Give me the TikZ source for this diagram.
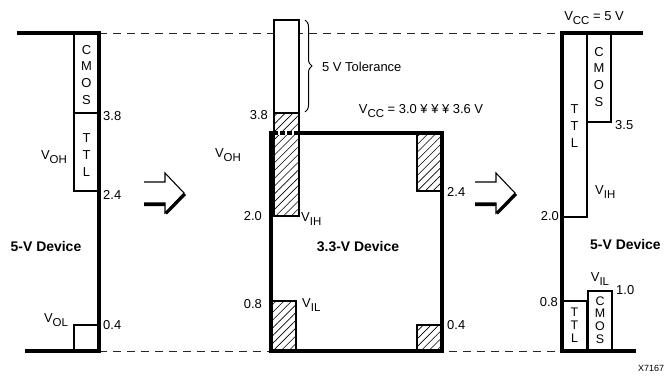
\documentclass[tikz,border=0pt]{standalone}
\usepackage{fontspec}
\setmainfont{Liberation Sans}
\usetikzlibrary{patterns.meta, decorations.pathreplacing, positioning}

\newcommand{\Vsub}[1]{V\raisebox{-0.55ex}{\fontsize{11.5}{11.5}\selectfont #1}}

\tikzset{
  device/.style={line width=4bp, line join=miter},
  lvlbox/.style={draw, line width=1.2bp, fill=white},
  hatchbox/.style={draw, line width=1.2bp, pattern={Lines[angle=45, distance=5.5bp, line width=0.6bp]}},
  guide/.style={line width=1bp, black!85, dash pattern=on 8bp off 6bp},
  lvl/.style={font=\fontsize{13}{14}\selectfont, inner sep=0pt},
  devname/.style={font=\fontsize{14}{16}\selectfont\bfseries, inner sep=0pt},
  letters/.style={align=center, font=\fontsize{13}{17}\selectfont, inner sep=0pt},
  smallletters/.style={align=center, font=\fontsize{12.5}{12.8}\selectfont, inner sep=0pt},
  fatarrow/.pic={
    \draw[line width=1.1bp] (0,-11) -- (21,-11) -- (21,-20) -- (40,0) -- (21,20) -- (21,10) -- (0,10);
    \draw[line width=3bp] (0,11.5) -- (21,11.5) (21.8,20.5) -- (41,1);
  }
}

\begin{document}
\begin{tikzpicture}[x=1bp, y=-1bp]
\useasboundingbox (0,0) rectangle (664,375);

% dashed guides between the devices
\coordinate (topL) at (99,33);
\coordinate (topR) at (562,33);
\coordinate (botL) at (99,351);
\coordinate (botR) at (562,351);
\draw[guide] (topL) -- (topR);
\draw[guide] (botL) -- (botR);

% 5-V device (driver)
\draw[lvlbox] (74,33) rectangle (99,113);
\draw[lvlbox] (74,113) rectangle (99,191);
\draw[lvlbox] (74,325) rectangle (99,351);
\draw[device] (17,33) -- (99,33) -- (99,351) -- (25,351);
\node[letters] (cmosL) at (86.5,75) {C\\M\\O\\S};
\node[letters] (ttlL) at (86.5,155) {T\\T\\L};
\node[lvl, anchor=west] (l38) at (103,116) {3.8};
\node[lvl, anchor=west] (l24) at (103,195) {2.4};
\node[lvl, anchor=west] (l04) at (103,325) {0.4};
\node[lvl] (vohL) at (54,157) {\Vsub{OH}};
\node[lvl] (volL) at (56,320) {\Vsub{OL}};
\node[devname] (devL) at (46,247) {5-V Device};

\pic at (144,193) {fatarrow};

% 3.3-V device
\draw[lvlbox] (274,20) rectangle (299,113);
\draw[hatchbox] (274,113) rectangle (299,216);
\draw[hatchbox] (417,133) rectangle (442,191);
\draw[hatchbox] (271,301) rectangle (296,351);
\draw[hatchbox] (417,325) rectangle (442,351);
\draw[device] (271,133) rectangle (442,351);
\draw[white, line width=4.2bp, dash pattern=on 2bp off 5bp, dash phase=-4bp] (274,133) -- (298,133);
\draw[decorate, decoration={brace, amplitude=7bp}, line width=1bp] (305,20) -- (305,112);
\node[lvl, anchor=west] (tol) at (322,67) {5 V Tolerance};
\node[lvl] (vccM) at (421,111) {\Vsub{CC} = 3.0 ¥ ¥ ¥ 3.6 V};
\node[lvl, anchor=east] (m38) at (268,115) {3.8};
\node[lvl] (vohM) at (228,155) {\Vsub{OH}};
\node[lvl, anchor=east] (m20) at (262,216) {2.0};
\node[lvl, anchor=west] (vihM) at (301,219) {\Vsub{IH}};
\node[lvl, anchor=east] (m08) at (262,304) {0.8};
\node[lvl, anchor=west] (vilM) at (302,305) {\Vsub{IL}};
\node[lvl, anchor=west] (m24) at (447,192) {2.4};
\node[lvl, anchor=west] (m04) at (447,325) {0.4};
\node[devname] (devM) at (358,247) {3.3-V Device};

\pic at (475,193) {fatarrow};

% 5-V device (receiver)
\draw[lvlbox] (562,33) rectangle (587,217);
\draw[lvlbox] (587,33) rectangle (611,122);
\draw[lvlbox] (562,301) rectangle (587,351);
\draw[lvlbox] (588,291) rectangle (612,351);
\draw[device] (643,33) -- (562,33) -- (562,351) -- (636,351);
\node[letters] (cmosR) at (599,77) {C\\M\\O\\S};
\node[letters] (ttlR) at (574.5,126) {T\\T\\L};
\node[smallletters] (ttlRs) at (574.5,325) {T\\T\\L};
\node[smallletters] (cmosRs) at (600,320) {C\\M\\O\\S};
\node[lvl] (vccR) at (594,18) {\Vsub{CC} = 5 V};
\node[lvl, anchor=west] (r35) at (615,125) {3.5};
\node[lvl, anchor=west] (vihR) at (595,192) {\Vsub{IH}};
\node[lvl, anchor=east] (r20) at (559,216) {2.0};
\node[devname, anchor=west] (devR) at (590,245) {5-V Device};
\node[lvl] (vilR) at (600,279) {\Vsub{IL}};
\node[lvl, anchor=west] (r10) at (616,290) {1.0};
\node[lvl, anchor=east] (r08) at (558,302) {0.8};
\node[font=\fontsize{9}{10}\selectfont, inner sep=0pt, anchor=west] (fig) at (638,368) {X7167};
\end{tikzpicture}
\end{document}
